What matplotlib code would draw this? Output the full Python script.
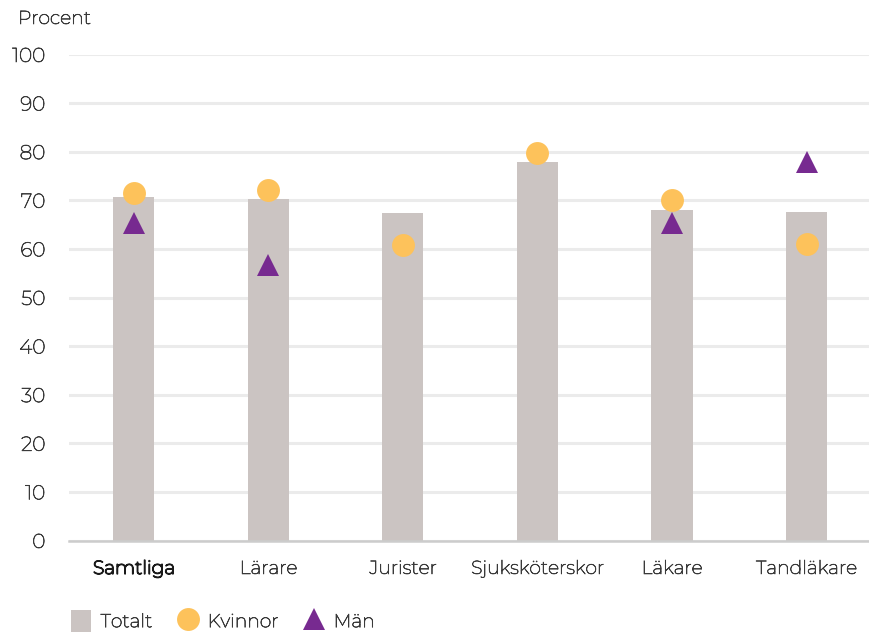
import matplotlib
matplotlib.use("Agg")
import matplotlib.pyplot as plt
import matplotlib.patheffects as pe
from matplotlib.lines import Line2D
from matplotlib.patches import Patch

categories = ["Samtliga", "Lärare", "Jurister", "Sjuksköterskor", "Läkare", "Tandläkare"]
totalt = [70.7, 70.2, 67.4, 77.8, 68.0, 67.5]
kvinnor = [71.6, 72.1, 60.8, 79.7, 70.0, 61.1]
man = [65.3, 56.7, None, None, 65.4, 77.9]
yticks = [0, 10, 20, 30, 40, 50, 60, 70, 80, 90, 100]

BAR = "#CBC4C2"
KV = "#FDC25B"
MAN = "#772A90"
TXT = "#3a3a3a"

plt.rcParams['font.family'] = ['Montserrat', 'Lato', 'DejaVu Sans']
thin = [pe.withStroke(linewidth=0.5, foreground=TXT)]
fig = plt.figure(figsize=(8.7, 6.34), dpi=100)
W, H = 870, 634
ax = fig.add_axes([69 / W, (H - 540.5) / H, 801 / W, 486 / H])

x = list(range(len(categories)))
ax.bar(x, totalt, width=0.305, color=BAR, zorder=2)
ax.plot(x, kvinnor, linestyle="none", marker="o", markersize=16.5, color=KV,
        markeredgewidth=0, zorder=3, clip_on=False)
mx = [i for i, v in zip(x, man) if v is not None]
my = [v for v in man if v is not None]
ax.plot(mx, my, linestyle="none", marker="^", markersize=16, color=MAN,
        markeredgewidth=0, zorder=4, clip_on=False)

ax.set_xlim(-0.483, 5.472)
ax.set_ylim(0, 100)
ax.set_yticks(yticks)
ax.set_yticklabels([str(t) for t in yticks])
ax.yaxis.grid(True, color="#ebebeb", linewidth=2.2, zorder=0)
ax.set_axisbelow(True)
for s in ["top", "right", "left"]:
    ax.spines[s].set_visible(False)
ax.spines["bottom"].set_color("#cccccc")
ax.spines["bottom"].set_linewidth(1.8)
ax.spines["bottom"].set_zorder(5)
ax.tick_params(axis="y", length=0, pad=17, labelsize=14.5, labelcolor=TXT)
ax.tick_params(axis="x", length=0, pad=14, labelsize=13.5, labelcolor=TXT)
ax.set_xticks(x)
ax.set_xticklabels(categories)
for t in ax.get_yticklabels() + ax.get_xticklabels():
    t.set_path_effects(thin)
first = ax.get_xticklabels()[0]
first.set_color("#1a1a1a")
first.set_path_effects([pe.withStroke(linewidth=1.05, foreground="#1a1a1a")])

fig.text(18 / W, 1 - 19 / H, "Procent", fontsize=13.5, color=TXT, va="center", ha="left",
         path_effects=thin)

handles = [
    Patch(facecolor=BAR, edgecolor="none"),
    Line2D([], [], linestyle="none", marker="o", markersize=16.5, color=KV, markeredgewidth=0),
    Line2D([], [], linestyle="none", marker="^", markersize=16, color=MAN, markeredgewidth=0),
]
leg = fig.legend(handles, ["Totalt", "Kvinnor", "Män"], loc="center left",
                 bbox_to_anchor=(65 / W, 1 - 621 / H), ncol=3, frameon=False,
                 fontsize=13.5, labelcolor=TXT, handlelength=1.1, handleheight=1.4,
                 handletextpad=0.5, columnspacing=1.35, borderaxespad=0, borderpad=0.3)
for t in leg.get_texts():
    t.set_path_effects(thin)

fig.savefig("out.png", dpi=100)
